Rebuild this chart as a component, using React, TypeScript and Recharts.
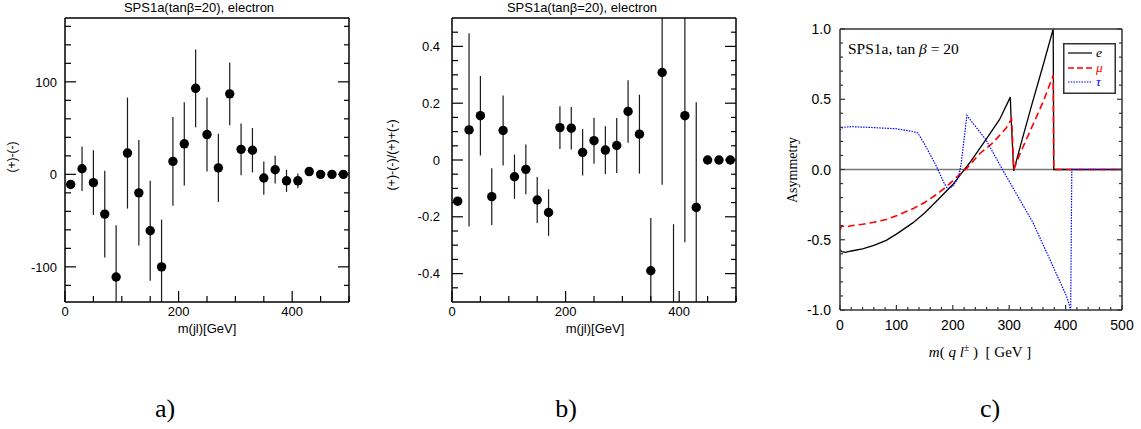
import React from "react";
import { ScatterChart, Scatter, ErrorBar, XAxis, YAxis, LineChart, Line, ReferenceLine, Legend } from "recharts";

// bin centres of m(jl), GeV
const BINS = [10, 30, 50, 70, 90, 110, 130, 150, 170, 190, 210, 230, 250, 270, 290, 310, 330, 350, 370, 390, 410, 430, 450, 470, 490];

// a) (+)-(-)
const DIFF = [-11, 6, -9, -43, -111, 23, -20, -61, -100, 14, 33, 93, 43, 7, 87, 27, 26, -4, 5, -7, -7, 3, 0, 0, 0];
const DIFF_ERR = [0, 24, 35, 47, 56, 60, 57, 54, 51, 48, 45, 42, 40, 37, 34, 28, 24, 18, 15, 12, 8, 0, 0, 0, 0];

// b) ((+)-(-))/((+)+(-))
const RATIO = [-0.145, 0.106, 0.156, -0.129, 0.104, -0.059, -0.033, -0.141, -0.185, 0.114, 0.112, 0.027, 0.068, 0.035, 0.051, 0.171, 0.091, -0.39, 0.308, -0.72, 0.156, -0.167, 0, 0, 0];
const RATIO_ERR = [0, 0.34, 0.14, 0.1, 0.123, 0.078, 0.088, 0.081, 0.082, 0.075, 0.075, 0.082, 0.081, 0.084, 0.097, 0.11, 0.139, 0.186, 0.395, 0.494, 0.446, 0.37, 0, 0, 0];

// c) theory curves, asymmetry vs m(q l)
const E_M = [0, 3, 10, 20, 40, 60, 82, 100, 129, 150, 171, 200, 215, 230, 259, 283, 302, 303, 308, 320, 340, 360, 378, 379, 500];
const E_A = [-0.57, -0.585, -0.59, -0.58, -0.565, -0.54, -0.504, -0.46, -0.38, -0.31, -0.226, -0.107, -0.03, 0.048, 0.214, 0.356, 0.515, 0.4, -0.01, 0.17, 0.46, 0.74, 1.0, 0, 0];
const MU_M = [0, 3, 10, 20, 40, 60, 82, 100, 129, 150, 171, 188, 212, 225, 248, 271, 295, 304, 305, 308, 320, 340, 360, 378, 379, 500];
const MU_A = [-0.43, -0.4, -0.41, -0.4, -0.39, -0.375, -0.356, -0.33, -0.28, -0.235, -0.178, -0.124, -0.036, 0.01, 0.114, 0.19, 0.297, 0.36, 0.3, 0, 0.12, 0.3, 0.48, 0.67, 0, 0];
const TAU_M = [0, 5, 20, 50, 100, 130, 138, 150, 170, 185, 191, 200, 210, 215, 225, 259, 288, 342, 372, 402, 409, 411, 500];
const TAU_A = [0.28, 0.3, 0.305, 0.3, 0.29, 0.27, 0.26, 0.18, 0.03, -0.1, -0.138, -0.12, -0.06, 0.047, 0.385, 0.21, 0, -0.377, -0.64, -0.904, -1.0, 0, 0];

// ticks
const AB_X_TICKS = [0, 50, 100, 150, 200, 250, 300, 350, 400, 450, 500];
const AB_X_LABELS = [0, 200, 400];
const A_Y_TICKS = [-120, -100, -80, -60, -40, -20, 0, 20, 40, 60, 80, 100, 120, 140, 160];
const A_Y_LABELS = [-100, 0, 100];
const B_Y_TICKS = [-0.45, -0.4, -0.35, -0.3, -0.25, -0.2, -0.15, -0.1, -0.05, 0, 0.05, 0.1, 0.15, 0.2, 0.25, 0.3, 0.35, 0.4, 0.45];
const B_Y_LABELS = [-0.4, -0.2, 0, 0.2, 0.4];
const C_X_TICKS = [0, 20, 40, 60, 80, 100, 120, 140, 160, 180, 200, 220, 240, 260, 280, 300, 320, 340, 360, 380, 400, 420, 440, 460, 480, 500];
const C_X_LABELS = [0, 100, 200, 300, 400, 500];
const C_Y_TICKS = [-1, -0.9, -0.8, -0.7, -0.6, -0.5, -0.4, -0.3, -0.2, -0.1, 0, 0.1, 0.2, 0.3, 0.4, 0.5, 0.6, 0.7, 0.8, 0.9, 1];
const C_Y_LABELS = [-1, -0.5, 0, 0.5, 1];

const LEGEND_LABELS = ["e", "μ", "τ"];

const SANS = '"Liberation Sans", Arial, Helvetica, sans-serif';
const SERIF = '"Liberation Serif", "Times New Roman", serif';

type Side = "bottom" | "left" | "top" | "right";
type TickOpts = {
  side: Side;
  major: number[];
  majorLen: number;
  minorLen: number;
  color: string;
  fmt?: (v: number) => string;
  gap?: number;
  fontSize?: number;
};

function tickRenderer(o: TickOpts) {
  return (props: any) => {
    const { x, y, payload } = props;
    const v = payload.value as number;
    const isMajor = o.major.some((m) => Math.abs(m - v) < 1e-6);
    const len = isMajor ? o.majorLen : o.minorLen;
    let x2 = x;
    let y2 = y;
    if (o.side === "bottom") y2 = y - len;
    else if (o.side === "top") y2 = y + len;
    else if (o.side === "left") x2 = x + len;
    else x2 = x - len;
    let label = null;
    if (o.fmt && isMajor) {
      const common = { fontFamily: SANS, fontSize: o.fontSize ?? 13, fill: "#000" };
      if (o.side === "bottom") {
        label = (
          <text x={x} y={y + (o.gap ?? 14)} textAnchor="middle" {...common}>
            {o.fmt(v)}
          </text>
        );
      } else if (o.side === "left") {
        label = (
          <text x={x - (o.gap ?? 8)} y={y} dy="0.36em" textAnchor="end" {...common}>
            {o.fmt(v)}
          </text>
        );
      }
    }
    return (
      <g>
        <line x1={x} y1={y} x2={x2} y2={y2} stroke={o.color} strokeWidth={1.2} />
        {label}
      </g>
    );
  };
}

const dot = (p: any) => <circle cx={p.cx} cy={p.cy} r={4.7} fill="#000" />;

function Txt({ x, y, children, style, rotate }: { x: number; y: number; children: React.ReactNode; style?: React.CSSProperties; rotate?: boolean }) {
  return (
    <div
      style={{
        position: "absolute",
        left: x,
        top: y,
        transform: `translate(-50%, -50%)${rotate ? " rotate(-90deg)" : ""}`,
        whiteSpace: "nowrap",
        lineHeight: 1,
        ...style,
      }}
    >
      {children}
    </div>
  );
}

function DataPanel({
  values,
  errs,
  yDomain,
  yTicks,
  yLabels,
  yFmt,
  yGap,
  marginLeft,
  marginRight,
}: {
  values: number[];
  errs: number[];
  yDomain: [number, number];
  yTicks: number[];
  yLabels: number[];
  yFmt: (v: number) => string;
  yGap: number;
  marginLeft: number;
  marginRight: number;
}) {
  // error bars are cut at the frame, like the original plot
  const [lo, hi] = yDomain;
  const data = BINS.map((x, i) => {
    const y = values[i];
    const e = errs[i];
    return { x, y, err: [Math.min(e, y - lo), Math.min(e, hi - y)] };
  });
  const axisLine = { stroke: "#000", strokeWidth: 1.5 };
  const tickColor = "#000";
  return (
    <ScatterChart width={380} height={340} margin={{ top: 17, bottom: 37, left: marginLeft, right: marginRight }}>
      <XAxis
        type="number"
        dataKey="x"
        domain={[0, 500]}
        allowDataOverflow
        ticks={AB_X_TICKS}
        interval={0}
        height={1}
        tickSize={0}
        tickMargin={0}
        axisLine={axisLine}
        tick={tickRenderer({ side: "bottom", major: AB_X_LABELS, majorLen: 11, minorLen: 6, color: tickColor, fmt: (v) => String(v), gap: 14 })}
      />
      <XAxis
        xAxisId="top"
        orientation="top"
        type="number"
        domain={[0, 500]}
        allowDataOverflow
        ticks={AB_X_TICKS}
        interval={0}
        height={1}
        tickSize={0}
        tickMargin={0}
        axisLine={axisLine}
        tick={tickRenderer({ side: "top", major: AB_X_LABELS, majorLen: 11, minorLen: 6, color: tickColor })}
      />
      <YAxis
        type="number"
        dataKey="y"
        domain={yDomain}
        allowDataOverflow
        ticks={yTicks}
        interval={0}
        width={1}
        tickSize={0}
        tickMargin={0}
        axisLine={axisLine}
        tick={tickRenderer({ side: "left", major: yLabels, majorLen: 11, minorLen: 6, color: tickColor, fmt: yFmt, gap: yGap })}
      />
      <YAxis
        yAxisId="right"
        orientation="right"
        type="number"
        domain={yDomain}
        allowDataOverflow
        ticks={yTicks}
        interval={0}
        width={1}
        tickSize={0}
        tickMargin={0}
        axisLine={axisLine}
        tick={tickRenderer({ side: "right", major: yLabels, majorLen: 11, minorLen: 5, color: tickColor })}
      />
      <Scatter data={data} dataKey="y" shape={dot} isAnimationActive={false}>
        <ErrorBar dataKey="err" direction="y" width={0} stroke="#1a1a1a" strokeWidth={1.2} isAnimationActive={false} />
      </Scatter>
    </ScatterChart>
  );
}

function CurveLegend() {
  const rows = [
    { color: "#000", dash: undefined as string | undefined, y: 10 },
    { color: "#f00", dash: "6 3", y: 25 },
    { color: "#00f", dash: "1.5 1.2", y: 39 },
  ];
  return (
    <svg width={53} height={51} style={{ display: "block" }}>
      <rect x={0.75} y={0.75} width={51.5} height={49.5} fill="#fff" stroke="#333" strokeWidth={1.5} />
      {rows.map((r, i) => (
        <g key={i}>
          <line x1={5} x2={29} y1={r.y} y2={r.y} stroke={r.color} strokeWidth={i === 1 ? 1.6 : 1.2} strokeDasharray={r.dash} />
          <text x={33} y={r.y + 4} fontFamily={SERIF} fontStyle="italic" fontSize={13.5} fill={r.color}>
            {LEGEND_LABELS[i]}
          </text>
        </g>
      ))}
    </svg>
  );
}

function CurvePanel() {
  const eData = E_M.map((x, i) => ({ x, y: E_A[i] }));
  const muData = MU_M.map((x, i) => ({ x, y: MU_A[i] }));
  const tauData = TAU_M.map((x, i) => ({ x, y: TAU_A[i] }));
  const axisLine = { stroke: "#333", strokeWidth: 1.5 };
  const c = "#333";
  const fmtY = (v: number) => v.toFixed(1);
  return (
    <LineChart width={381} height={380} margin={{ top: 28, bottom: 69, left: 79, right: 18 }}>
      <XAxis
        type="number"
        dataKey="x"
        domain={[0, 500]}
        allowDataOverflow
        ticks={C_X_TICKS}
        interval={0}
        height={1}
        tickSize={0}
        tickMargin={0}
        axisLine={axisLine}
        tick={tickRenderer({ side: "bottom", major: C_X_LABELS, majorLen: 5, minorLen: 3, color: c, fmt: (v) => String(v), gap: 20, fontSize: 14 })}
      />
      <XAxis
        xAxisId="top"
        orientation="top"
        type="number"
        domain={[0, 500]}
        allowDataOverflow
        ticks={C_X_TICKS}
        interval={0}
        height={1}
        tickSize={0}
        tickMargin={0}
        axisLine={axisLine}
        tick={tickRenderer({ side: "top", major: C_X_LABELS, majorLen: 5, minorLen: 3, color: c })}
      />
      <YAxis
        type="number"
        domain={[-1, 1]}
        allowDataOverflow
        ticks={C_Y_TICKS}
        interval={0}
        width={1}
        tickSize={0}
        tickMargin={0}
        axisLine={axisLine}
        tick={tickRenderer({ side: "left", major: C_Y_LABELS, majorLen: 5, minorLen: 3, color: c, fmt: fmtY, gap: 9, fontSize: 14 })}
      />
      <YAxis
        yAxisId="right"
        orientation="right"
        type="number"
        domain={[-1, 1]}
        allowDataOverflow
        ticks={C_Y_TICKS}
        interval={0}
        width={1}
        tickSize={0}
        tickMargin={0}
        axisLine={axisLine}
        tick={tickRenderer({ side: "right", major: C_Y_LABELS, majorLen: 5, minorLen: 3, color: c })}
      />
      <ReferenceLine y={0} stroke="#777" strokeWidth={1.5} />
      <Line data={eData} dataKey="y" type="linear" stroke="#000" strokeWidth={1.3} dot={false} isAnimationActive={false} />
      <Line data={muData} dataKey="y" type="linear" stroke="#f00" strokeWidth={1.6} strokeDasharray="7 4" dot={false} isAnimationActive={false} />
      <Line data={tauData} dataKey="y" type="linear" stroke="#00f" strokeWidth={1.2} strokeDasharray="1.5 1.2" dot={false} isAnimationActive={false} />
      <Legend
        layout="horizontal"
        verticalAlign="middle"
        align="center"
        wrapperStyle={{ left: 303, top: 43, width: 53, height: 51 }}
        content={() => <CurveLegend />}
      />
    </LineChart>
  );
}

export default function App() {
  const title = "SPS1a(tanβ=20), electron";
  return (
    <div style={{ position: "absolute", left: 0, top: 0, width: 1141, height: 429, background: "#fff", overflow: "hidden" }}>
      <div style={{ position: "absolute", left: 0, top: 0 }}>
        <DataPanel values={DIFF} errs={DIFF_ERR} yDomain={[-138, 169]} yTicks={A_Y_TICKS} yLabels={A_Y_LABELS} yFmt={(v) => String(v)} yGap={8} marginLeft={64} marginRight={30} />
      </div>
      <div style={{ position: "absolute", left: 380, top: 0 }}>
        <DataPanel values={RATIO} errs={RATIO_ERR} yDomain={[-0.5, 0.5]} yTicks={B_Y_TICKS} yLabels={B_Y_LABELS} yFmt={(v) => String(v)} yGap={12} marginLeft={71} marginRight={23} />
      </div>
      <div style={{ position: "absolute", left: 760, top: 0 }}>
        <CurvePanel />
      </div>

      <Txt x={199} y={7} style={{ fontFamily: SANS, fontSize: 13 }}>{title}</Txt>
      <Txt x={582} y={7} style={{ fontFamily: SANS, fontSize: 13 }}>{title}</Txt>
      <Txt x={207} y={328} style={{ fontFamily: SANS, fontSize: 13 }}>m(jl)[GeV]</Txt>
      <Txt x={595} y={328} style={{ fontFamily: SANS, fontSize: 13 }}>m(jl)[GeV]</Txt>
      <Txt x={12} y={157} rotate style={{ fontFamily: SANS, fontSize: 12 }}>(+)-(-)</Txt>
      <Txt x={392} y={155} rotate style={{ fontFamily: SANS, fontSize: 12.5 }}>(+)-(-)/(+)+(-)</Txt>

      <Txt x={793} y={170} rotate style={{ fontFamily: SERIF, fontSize: 14 }}>Asymmetry</Txt>
      <Txt x={980} y={351} style={{ fontFamily: SERIF, fontSize: 15 }}>
        <i>m</i>( <i>q</i> <i>l</i><sup style={{ fontSize: 10 }}>±</sup> )&nbsp;&nbsp;[ GeV ]
      </Txt>
      <div style={{ position: "absolute", left: 848, top: 41, fontFamily: SERIF, fontSize: 15.5, lineHeight: 1, whiteSpace: "nowrap" }}>
        SPS1a, tan <i>β</i> = 20
      </div>

      <Txt x={165} y={409} style={{ fontFamily: SERIF, fontSize: 26 }}>a)</Txt>
      <Txt x={566} y={409} style={{ fontFamily: SERIF, fontSize: 26 }}>b)</Txt>
      <Txt x={990} y={409} style={{ fontFamily: SERIF, fontSize: 26 }}>c)</Txt>
    </div>
  );
}
